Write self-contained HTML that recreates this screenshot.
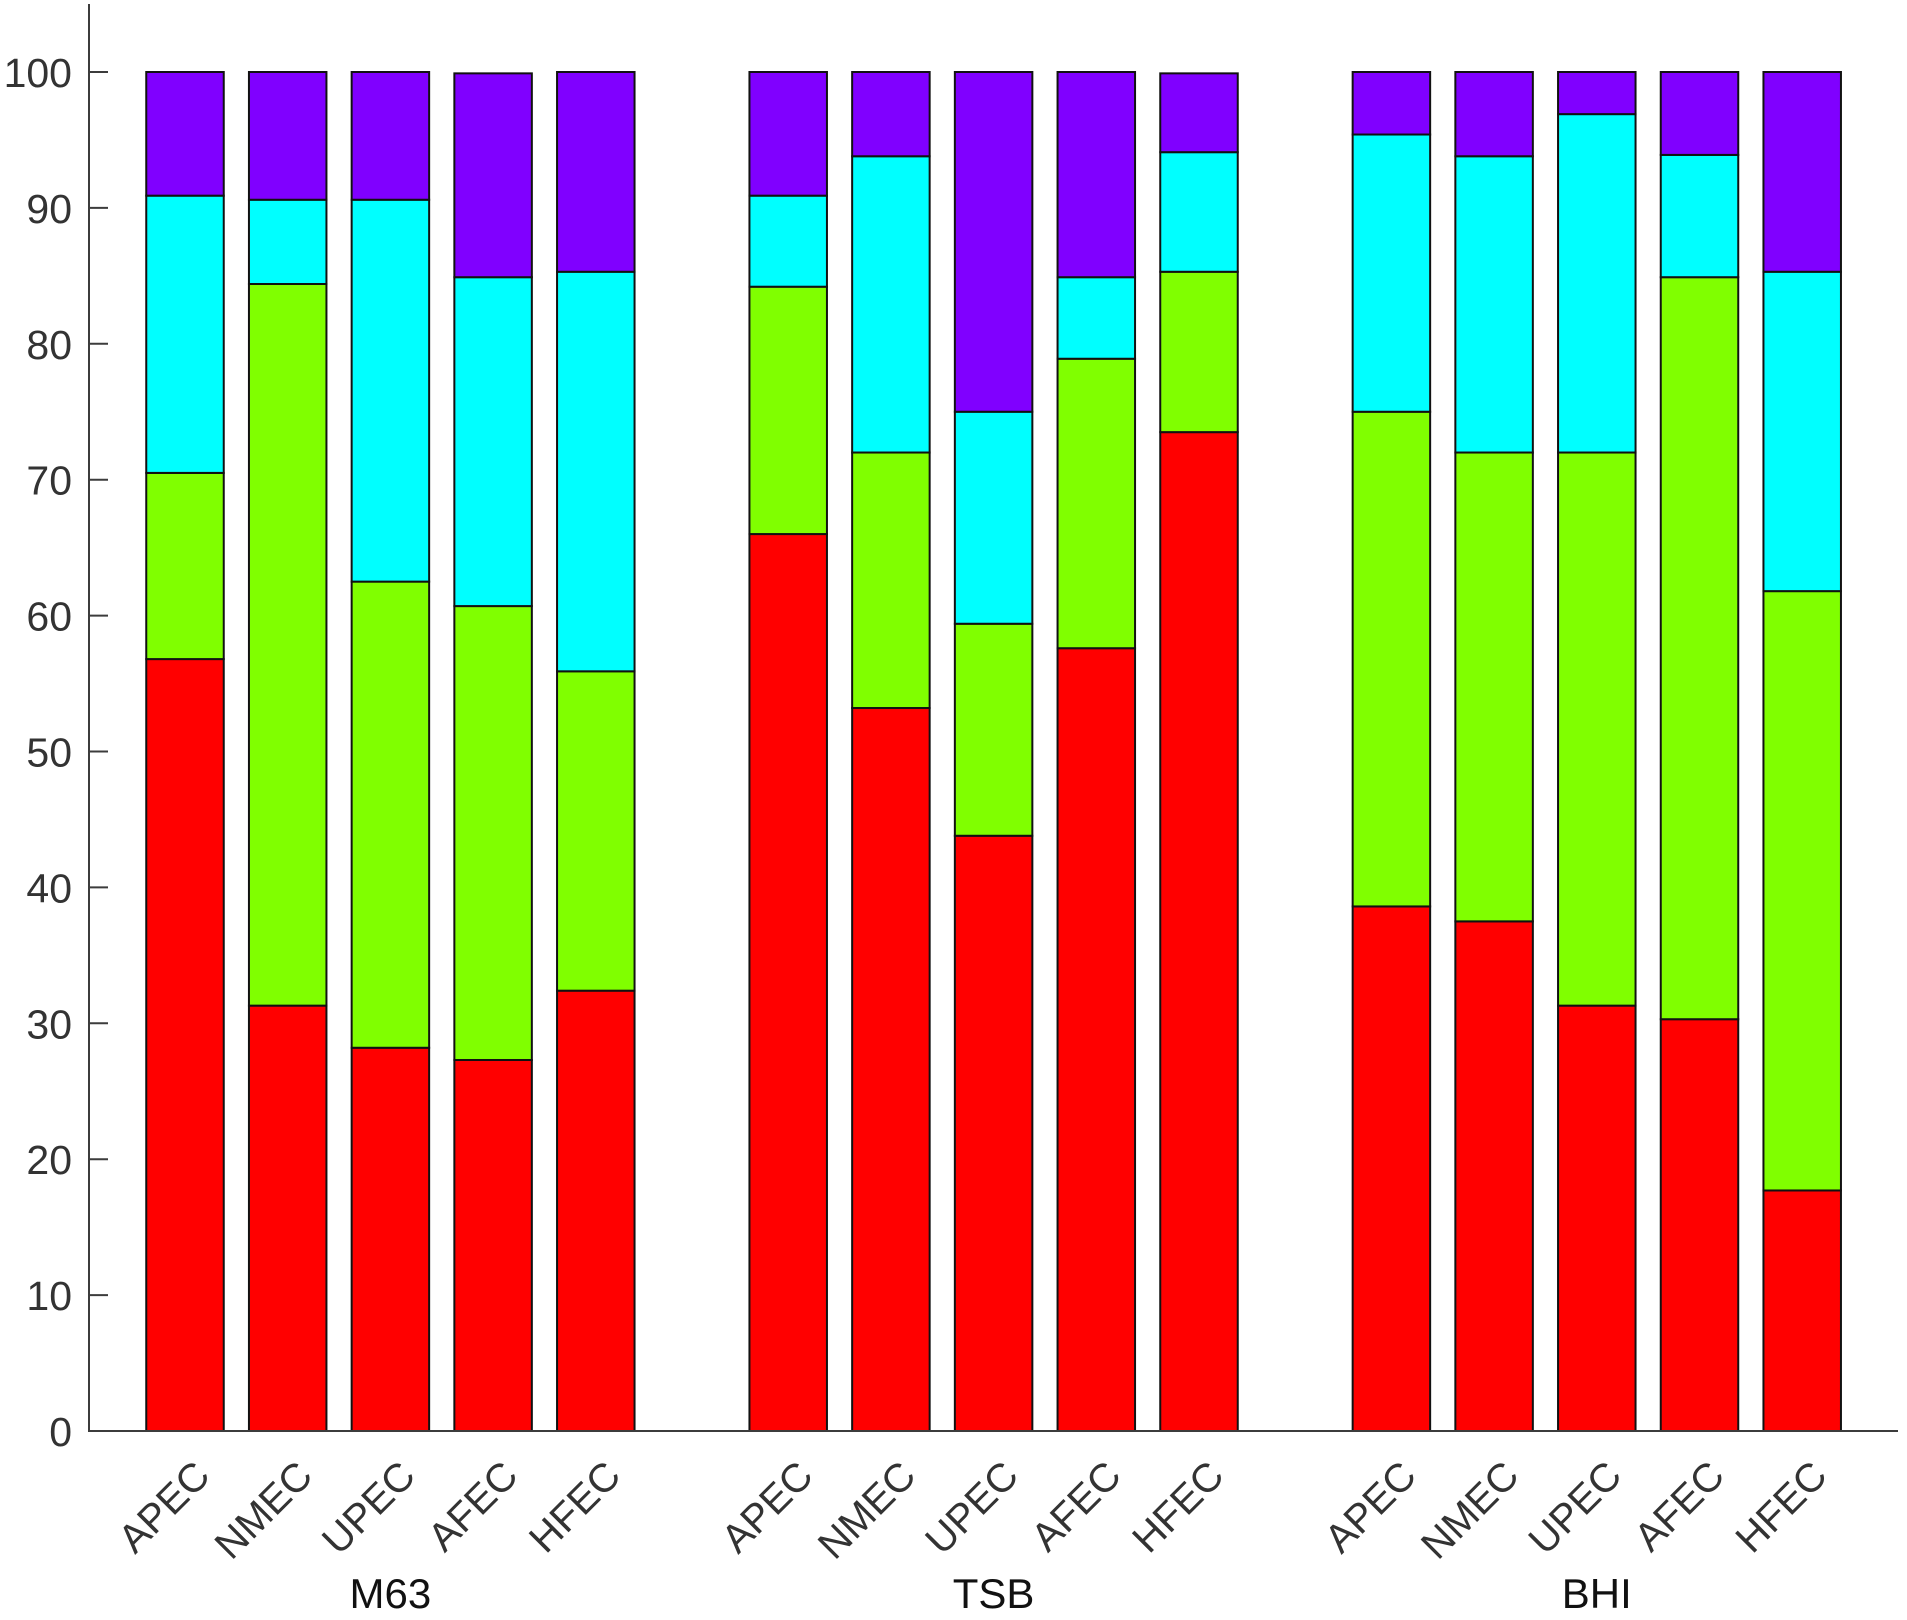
<!DOCTYPE html>
<html lang="en">
<head>
<meta charset="utf-8">
<title>Stacked bar chart</title>
<style>
html,body{margin:0;padding:0;background:#fff;width:1907px;height:1620px;overflow:hidden}
svg{display:block;font-family:"Liberation Sans",Arial,sans-serif}
</style>
</head>
<body>
<svg id="chart" xmlns="http://www.w3.org/2000/svg" width="1907" height="1620" viewBox="0 0 1907 1620"></svg>
<script>
const groups = ["M63", "TSB", "BHI"];
const categories = ["APEC", "NMEC", "UPEC", "AFEC", "HFEC"];
const yTicks = [0, 10, 20, 30, 40, 50, 60, 70, 80, 90, 100];
const seriesNames = ["red", "green", "cyan", "purple"];
const seriesColors = ["#ff0000", "#80ff00", "#00ffff", "#8000ff"];
const redValues = [56.8, 31.3, 28.2, 27.3, 32.4, 66.0, 53.2, 43.8, 57.6, 73.5, 38.6, 37.5, 31.3, 30.3, 17.7];
const greenValues = [13.7, 53.1, 34.3, 33.4, 23.5, 18.2, 18.8, 15.6, 21.3, 11.8, 36.4, 34.5, 40.7, 54.6, 44.1];
const cyanValues = [20.4, 6.2, 28.1, 24.2, 29.4, 6.7, 21.8, 15.6, 6.0, 8.8, 20.4, 21.8, 24.9, 9.0, 23.5];
const purpleValues = [9.1, 9.4, 9.4, 15.0, 14.7, 9.1, 6.2, 25.0, 15.1, 5.8, 4.6, 6.2, 3.1, 6.1, 14.7];

const svg = document.getElementById('chart');
const NS = 'http://www.w3.org/2000/svg';
const axisColor = '#3c3c3c';
const plotLeft = 89, plotRight = 1898, plotTop = 4;
const y0 = 1431, yUnit = 13.59;
const firstCenter = 185, barPitch = 102.7, groupPitch = 603.2, barWidth = 77.5;

function yScale(v) { return y0 - v * yUnit; }
function xScale(g, c) { return firstCenter + g * groupPitch + c * barPitch; }
function make(tag, attrs, text) {
  const el = document.createElementNS(NS, tag);
  for (const k in attrs) el.setAttribute(k, attrs[k]);
  if (text !== undefined) el.textContent = text;
  svg.appendChild(el);
  return el;
}

const seriesValues = [redValues, greenValues, cyanValues, purpleValues];
groups.forEach(function (group, g) {
  categories.forEach(function (cat, c) {
    const idx = g * categories.length + c;
    let base = 0;
    seriesValues.forEach(function (vals, s) {
      const top = base + vals[idx];
      const rect = make('rect', {
        x: xScale(g, c) - barWidth / 2,
        y: yScale(top),
        width: barWidth,
        height: yScale(base) - yScale(top),
        fill: seriesColors[s],
        stroke: '#111',
        'stroke-width': 2
      });
      
      
      base = top;
    });
    const cx = xScale(g, c) + 27;
    const label = make('text', {
      x: cx,
      y: 1478,
      'font-size': 40,
      fill: '#333',
      'text-anchor': 'end',
      transform: 'rotate(-45 ' + cx + ' 1478)'
    }, cat);
    
    
  });
  const groupLabel = make('text', {
    x: xScale(g, 2),
    y: 1608,
    'font-size': 42,
    fill: '#111',
    'text-anchor': 'middle'
  }, group);
  
  
});

const yAxisLine = make('line', { x1: plotLeft, x2: plotLeft, y1: plotTop, y2: y0 + 1, stroke: axisColor, 'stroke-width': 2 });


const xAxisLine = make('line', { x1: plotLeft, x2: plotRight, y1: y0, y2: y0, stroke: axisColor, 'stroke-width': 2 });



yTicks.forEach(function (t) {
  const y = yScale(t);
  const tick = make('line', { x1: plotLeft, x2: plotLeft + 19, y1: y, y2: y, stroke: axisColor, 'stroke-width': 2 });
  
  
  const label = make('text', { x: 72, y: y + 15, 'font-size': 41, fill: '#333', 'text-anchor': 'end' }, String(t));
  
  
});
</script>
</body>
</html>
